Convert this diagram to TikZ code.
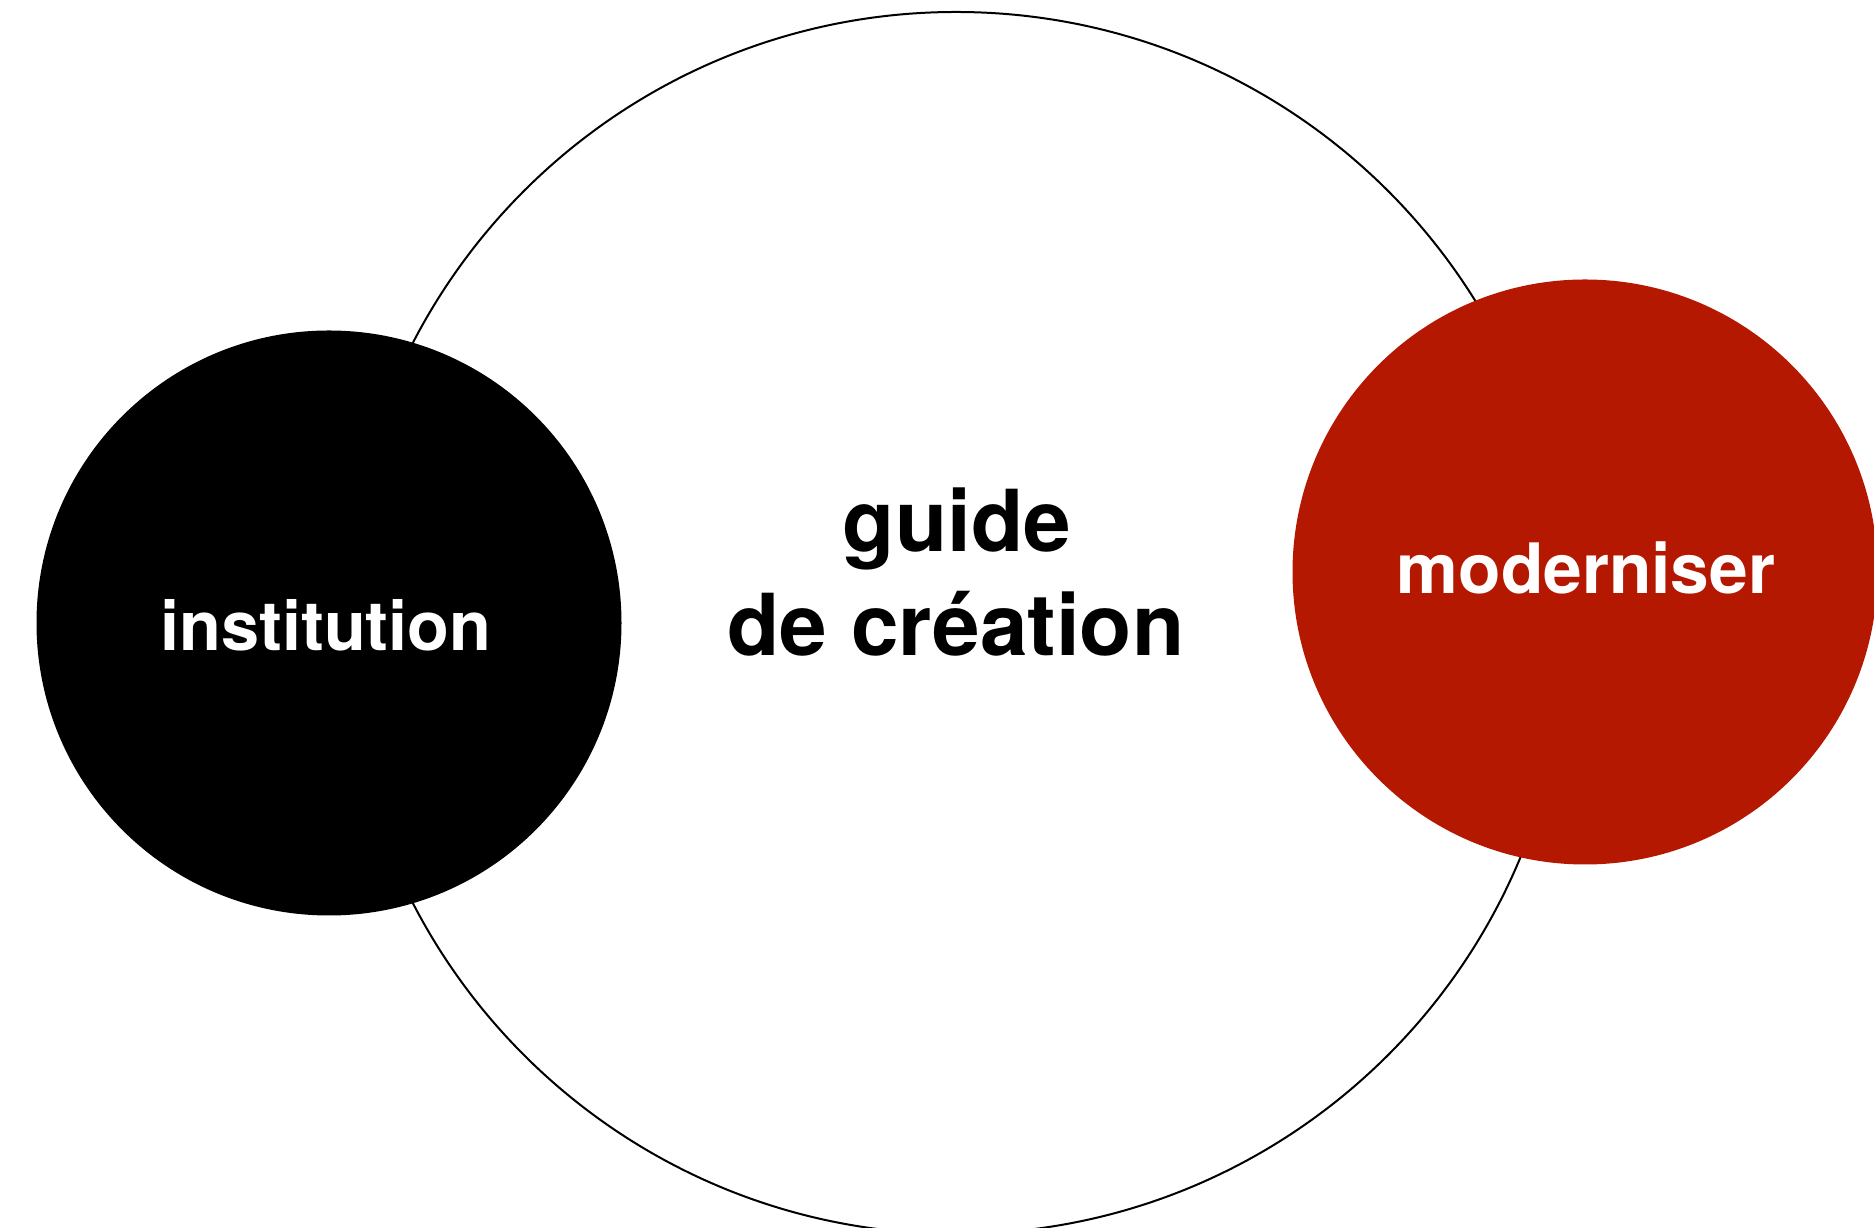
\documentclass[tikz,border=0pt]{standalone}
\usepackage{fontspec}
\setmainfont{TeX Gyre Heros}
\definecolor{modred}{RGB}{180,24,0}
\tikzset{
  bigring/.style={circle, draw=black, line width=2pt, fill=white, minimum size=1222pt, inner sep=0pt},
  disc/.style={circle, inner sep=0pt, minimum size=585pt},
  disclabel/.style={anchor=base, inner sep=0pt, text=white},
  centertext/.style={align=center, anchor=base, inner sep=0pt, font=\fontsize{85.5}{104}\selectfont\bfseries}
}
\begin{document}
\begin{tikzpicture}[x=1pt,y=1pt]
\useasboundingbox (0,0) rectangle (1874,1228);
\clip (0,0) rectangle (1874,1228);
\node[bigring] (ring) at (956,605) {};
\node[disc, fill=black] (inst) at (329,605) {};
\node[disc, fill=modred] (mod) at (1585,656) {};
\node[disclabel, font=\fontsize{68.5}{80}\selectfont\bfseries] (instlabel) at (326,577) {institution};
\node[disclabel, font=\fontsize{69.5}{80}\selectfont\bfseries] (modlabel) at (1586,634) {moderniser};
\node[centertext] (guide) at (957,676) {guide};
\node[centertext] (creation) at (956,572) {de création};
\end{tikzpicture}
\end{document}
